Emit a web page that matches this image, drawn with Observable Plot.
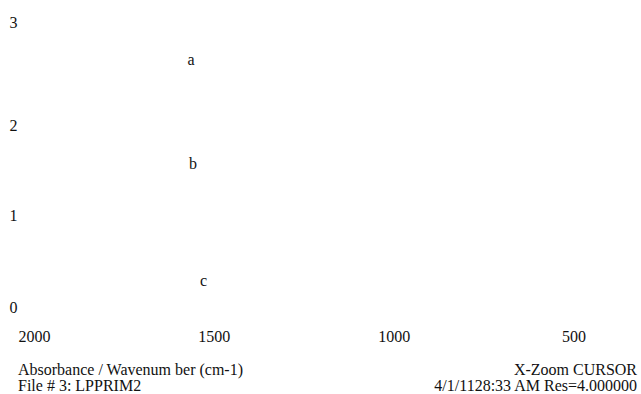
<!DOCTYPE html>
<html>
<head>
<meta charset="utf-8">
<script src="https://cdn.jsdelivr.net/npm/d3@7"></script>
<script src="https://cdn.jsdelivr.net/npm/@observablehq/plot@0.6"></script>
<style>
  html, body { margin: 0; padding: 0; background: #fff; overflow: hidden; }
  #chart svg { display: block; }
  .footer { display: flex; justify-content: space-between; font-family: "Liberation Serif", "Times New Roman", serif; font-size: 16px; line-height: 16px; color: #111; padding: 4px 4px 0 18px; }
  .footer .right { text-align: right; }
</style>
</head>
<body>
<div id="chart"></div>
<div class="footer">
  <div class="left"><div id="l1"></div><div id="l2"></div></div>
  <div class="right"><div id="r1"></div><div id="r2"></div></div>
</div>
<script>
// Data
const xTicks = [2000, 1500, 1000, 500];
const yTicks = [0, 1, 2, 3];
const traceLabels = ["a", "b", "c"];
const traceLabelX = [1565, 1559, 1530];
const traceLabelY = [2.64, 1.57, 0.29];
const footerLeft = ["Absorbance / Wavenum ber (cm-1)", "File # 3: LPPRIM2"];
const footerRight = ["X-Zoom CURSOR", "4/1/1128:33 AM Res=4.000000"];

const labels = traceLabels.map((t, i) => ({ t, x: traceLabelX[i], y: traceLabelY[i] }));

const chart = Plot.plot({
  width: 641,
  height: 358,
  marginLeft: 34,
  marginRight: 67.5,
  marginTop: 10,
  marginBottom: 31,
  style: { fontFamily: "'Liberation Serif', 'Times New Roman', serif", fontSize: "16px", background: "#fff", color: "#111" },
  x: { domain: [2000, 500], ticks: xTicks, tickFormat: d => String(d), tickSize: 0, tickPadding: 3, label: null, line: false },
  y: { type: "linear", domain: [0, 1, 2, 3], range: [307, 215, 125, 22], ticks: yTicks, tickFormat: d => String(d), tickSize: 0, label: null },
  marks: [
    Plot.axisY({ ticks: yTicks, tickSize: 0, tickPadding: 0, textAnchor: "start", dx: -25, tickFormat: d => String(d), label: null, fontSize: 16 }),
    Plot.axisX({ ticks: xTicks, tickSize: 0, tickPadding: 3, tickFormat: d => String(d), label: null, fontSize: 16 }),
    Plot.text(labels, { x: "x", y: "y", text: "t", fontSize: 16, fill: "#111" })
  ]
});
document.getElementById("chart").appendChild(chart);
document.getElementById("l1").textContent = footerLeft[0];
document.getElementById("l2").textContent = footerLeft[1];
document.getElementById("r1").textContent = footerRight[0];
document.getElementById("r2").textContent = footerRight[1];
</script>
</body>
</html>
